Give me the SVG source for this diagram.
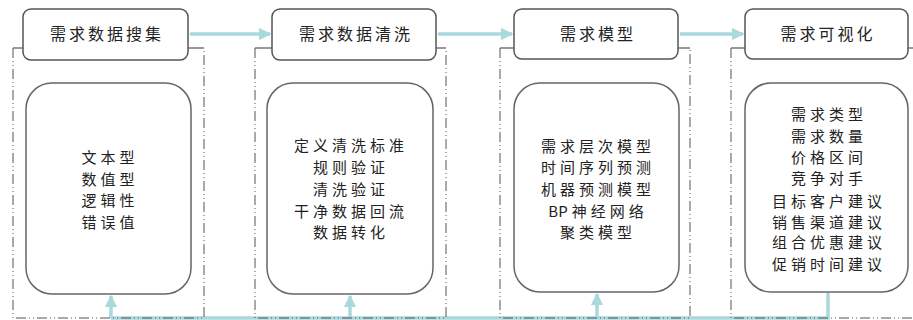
<svg xmlns="http://www.w3.org/2000/svg" width="913" height="320" viewBox="0 0 913 320">
<defs>
<style>
.frame{fill:none;stroke:#555;stroke-width:1;stroke-dasharray:10 3 1 3 1 3}
.fline{stroke:#555;stroke-width:1.2}
.hdr{fill:#fff;stroke:#555;stroke-width:1.5}
.inner{fill:#fff;stroke:#666;stroke-width:1.5}
.t{font-family:"Noto Sans CJK SC","Liberation Sans",sans-serif;font-size:15px;fill:#222;text-anchor:middle;letter-spacing:4px}
.h{font-size:16px;letter-spacing:3px}
.c{stroke:#a9d9dc;stroke-width:3.5;fill:none}
</style>
<marker id="ah" viewBox="0 0 10 10" refX="9" refY="5" markerWidth="3.6" markerHeight="3.6" orient="auto">
<path d="M0,0 L10,5 L0,10 z" fill="#a9d9dc"/>
</marker>
</defs>
<rect width="913" height="320" fill="#fff"/>
<g id="connectors">
<line class="c" x1="190" y1="34" x2="270" y2="34" marker-end="url(#ah)"/>
<line class="c" x1="438" y1="34" x2="512" y2="34" marker-end="url(#ah)"/>
<line class="c" x1="680" y1="34" x2="743" y2="34" marker-end="url(#ah)"/>
<polyline class="c" points="828,293 828,318 111,318"/>
<line class="c" x1="111" y1="318" x2="111" y2="296" marker-end="url(#ah)"/>
<line class="c" x1="350" y1="318" x2="350" y2="296" marker-end="url(#ah)"/>
<line class="c" x1="597" y1="318" x2="597" y2="294" marker-end="url(#ah)"/>
</g>
<g id="stage1">
<path class="frame" d="M13,48 V318 H204 V48"/>
<line class="fline" x1="13" y1="48" x2="23" y2="48"/>
<line class="fline" x1="188" y1="48" x2="204" y2="48"/>
<rect class="hdr" x="23" y="9" width="165" height="51" rx="8"/>
<text class="t h" x="107" y="40">需求数据搜集</text>
<rect class="inner" x="26" y="83" width="165" height="211" rx="26"/>
<text class="t" x="110" y="163">文本型</text>
<text class="t" x="110" y="185">数值型</text>
<text class="t" x="110" y="206">逻辑性</text>
<text class="t" x="110" y="228">错误值</text>
</g>
<g id="stage2">
<path class="frame" d="M255,48 V318 H446 V48"/>
<line class="fline" x1="255" y1="48" x2="272" y2="48"/>
<line class="fline" x1="436" y1="48" x2="446" y2="48"/>
<rect class="hdr" x="272" y="9" width="164" height="51" rx="8"/>
<text class="t h" x="356" y="40">需求数据清洗</text>
<rect class="inner" x="267" y="83" width="166" height="211" rx="26"/>
<text class="t" x="351" y="151">定义清洗标准</text>
<text class="t" x="351" y="173">规则验证</text>
<text class="t" x="351" y="195">清洗验证</text>
<text class="t" x="351" y="217">干净数据回流</text>
<text class="t" x="351" y="238">数据转化</text>
</g>
<g id="stage3">
<path class="frame" d="M500,48 V318 H690 V48"/>
<line class="fline" x1="500" y1="48" x2="514" y2="48"/>
<line class="fline" x1="678" y1="48" x2="690" y2="48"/>
<rect class="hdr" x="514" y="9" width="164" height="50" rx="8"/>
<text class="t h" x="598" y="40">需求模型</text>
<rect class="inner" x="514" y="83" width="165" height="209" rx="26"/>
<text class="t" x="598" y="152">需求层次模型</text>
<text class="t" x="598" y="173">时间序列预测</text>
<text class="t" x="598" y="195">机器预测模型</text>
<text class="t" x="598" y="217"><tspan letter-spacing="0">B</tspan>P神经网络</text>
<text class="t" x="598" y="238">聚类模型</text>
</g>
<g id="stage4">
<path class="frame" d="M731,48 V318 H913"/>
<line class="fline" x1="731" y1="48" x2="745" y2="48"/>
<line class="fline" x1="908" y1="48" x2="913" y2="48"/>
<rect class="hdr" x="745" y="9" width="163" height="50" rx="8"/>
<text class="t h" x="828" y="40">需求可视化</text>
<rect class="inner" x="745" y="83" width="163" height="209" rx="26"/>
<text class="t" x="829" y="120">需求类型</text>
<text class="t" x="829" y="142">需求数量</text>
<text class="t" x="829" y="163">价格区间</text>
<text class="t" x="829" y="184">竞争对手</text>
<text class="t" x="829" y="207">目标客户建议</text>
<text class="t" x="829" y="228">销售渠道建议</text>
<text class="t" x="829" y="248">组合优惠建议</text>
<text class="t" x="829" y="270">促销时间建议</text>
</g>
</svg>
